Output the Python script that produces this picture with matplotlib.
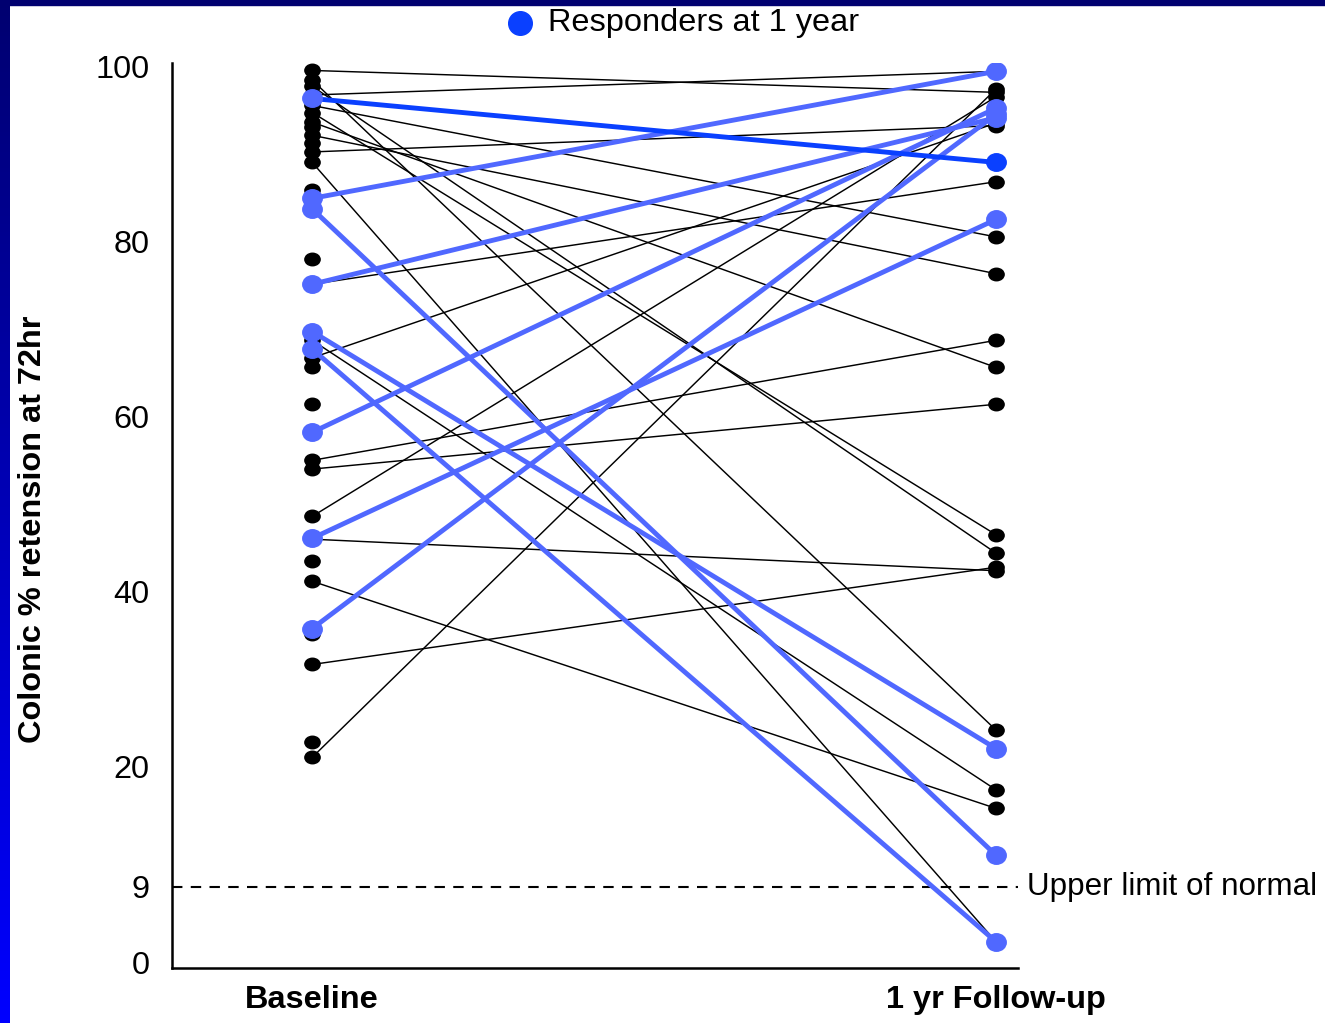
import numpy as np
import matplotlib
matplotlib.use("Agg")
import matplotlib.pyplot as plt
import matplotlib.transforms as mtransforms
from matplotlib.path import Path
from matplotlib.lines import Line2D
from matplotlib.patches import Rectangle
from matplotlib.colors import LinearSegmentedColormap

plt.rcParams['font.family'] = ['Liberation Sans', 'DejaVu Sans']

# ---- data -------------------------------------------------------------
time_points = ["Baseline", "1 yr Follow-up"]
y_ticks = [0, 9, 20, 40, 60, 80, 100]
upper_limit_normal = 9

# patients who did not respond (baseline -> 1 yr)
other_baseline = [99.5, 98.4, 97.7, 96.7, 95.5, 94.7, 93.6, 92.1, 90.2, 89.0,
                  75.1, 68.7, 66.7, 55.0, 54.0, 48.6, 46.0, 41.2, 31.7, 21.1]
other_followup = [97.0, 24.2, 44.4, 99.4, 80.5, 46.5, 65.6, 76.3, 93.2, 2.5,
                  86.8, 17.9, 93.5, 68.7, 61.4, 96.5, 42.4, 16.2, 42.8, 97.4]

# baseline measurements without a follow-up value
baseline_only = [93.0, 91.2, 85.8, 78.0, 65.6, 61.4, 43.5, 35.2, 22.8]

# responders at 1 year
responder_baseline = [84.9, 83.7, 75.1, 69.7, 67.7, 58.2, 46.1, 35.8]
responder_followup = [99.4, 11.9, 94.1, 22.1, 2.5, 95.2, 82.5, 94.5]

# highlighted responder
highlight_baseline = [96.3]
highlight_followup = [89.0]

# ---- styling ----------------------------------------------------------
LIGHT_BLUE = '#5068ff'
DARK_BLUE = '#0a40ff'
FS = 23.4

# y axis is stretched piecewise between its labelled values
_vals = np.array([-20.0, 0.0, 9.0, 20.0, 100.0, 120.0])
_pos = np.array([-168.0, 0.0, 76.0, 196.0, 897.0, 1072.2])


def forward(v):
    return np.interp(v, _vals, _pos)


def inverse(p):
    return np.interp(p, _pos, _vals)


def ellipse(ratio):
    return Path.unit_circle().transformed(mtransforms.Affine2D().scale(1.0, ratio))


black_dot = ellipse(0.82)
blue_dot = ellipse(0.9)

W, H = 1325, 1023
fig = plt.figure(figsize=(W / 100, H / 100), dpi=100)
fig.patch.set_facecolor('white')

ax = fig.add_axes([172 / W, 1 - 968 / H, (1018 - 172) / W, (968 - 63) / H])
ax.set_yscale('function', functions=(forward, inverse))
ax.set_xlim(-0.205, 1.032)
ax.set_ylim(-0.6, 100.35)

x = [0, 1]

# non-responders
for b, f in zip(other_baseline, other_followup):
    ax.plot(x, [b, f], color='black', lw=1.05, zorder=2, solid_capstyle='round')
ax.plot(np.zeros(len(other_baseline)), other_baseline, ls='', marker=black_dot,
        ms=11, color='black', zorder=3)
ax.plot(np.ones(len(other_followup)), other_followup, ls='', marker=black_dot,
        ms=11, color='black', zorder=3)
ax.plot(np.zeros(len(baseline_only)), baseline_only, ls='', marker=black_dot,
        ms=11, color='black', zorder=3)

# responders
for b, f in zip(responder_baseline, responder_followup):
    ax.plot(x, [b, f], color=LIGHT_BLUE, lw=3.5, zorder=4, solid_capstyle='round')
ax.plot(np.zeros(len(responder_baseline)), responder_baseline, ls='', marker=blue_dot,
        ms=14, color=LIGHT_BLUE, zorder=5)
ax.plot(np.ones(len(responder_followup)), responder_followup, ls='', marker=blue_dot,
        ms=14, color=LIGHT_BLUE, zorder=5)

for b, f in zip(highlight_baseline, highlight_followup):
    ax.plot(x, [b, f], color=DARK_BLUE, lw=3.5, zorder=6, solid_capstyle='round')
ax.plot(np.zeros(len(highlight_baseline)), highlight_baseline, ls='', marker=blue_dot,
        ms=14, color=LIGHT_BLUE, zorder=7)
ax.plot(np.ones(len(highlight_followup)), highlight_followup, ls='', marker=blue_dot,
        ms=14, color=DARK_BLUE, zorder=7)

# upper limit of normal
ax.axhline(upper_limit_normal, color='black', lw=1.5, ls=(0, (5, 4)), zorder=1)
ax.text(1.045, upper_limit_normal, "Upper limit of normal", fontsize=22.6,
        ha='left', va='center', clip_on=False)

# axes
for side in ('top', 'right'):
    ax.spines[side].set_visible(False)
for side in ('left', 'bottom'):
    ax.spines[side].set_linewidth(1.8)
ax.set_yticks(y_ticks)
ax.set_yticklabels([str(t) for t in y_ticks])
ax.yaxis.set_minor_locator(matplotlib.ticker.NullLocator())
ax.tick_params(axis='y', length=0, pad=16, labelsize=FS)
ax.set_xticks(x)
ax.set_xticklabels(time_points, fontweight='bold', fontsize=FS)
ax.tick_params(axis='x', length=0, pad=12)

fig.text(33 / W, 1 - 529 / H, "Colonic % retension at 72hr", rotation=90,
         ha='center', va='center', fontsize=FS, fontweight='bold')

# legend
fig.add_artist(Line2D([520 / W], [1 - 23 / H], transform=fig.transFigure,
                      marker='o', ms=17, color=DARK_BLUE, ls=''))
fig.text(548 / W, 1 - 23 / H, "Responders at 1 year", fontsize=FS,
         ha='left', va='center')

# frame bars
bar = fig.add_axes([0, 0, 10 / W, 1])
bar.imshow(np.linspace(0, 1, 256).reshape(-1, 1), aspect='auto',
           cmap=LinearSegmentedColormap.from_list('edge', ['#000070', '#0000ff']),
           extent=[0, 1, 0, 1], origin='upper')
bar.set_axis_off()
fig.add_artist(Rectangle((0, 1 - 5 / H), 1, 5 / H, transform=fig.transFigure,
                         color='#000070', zorder=10))

fig.savefig("out.png", dpi=100)
